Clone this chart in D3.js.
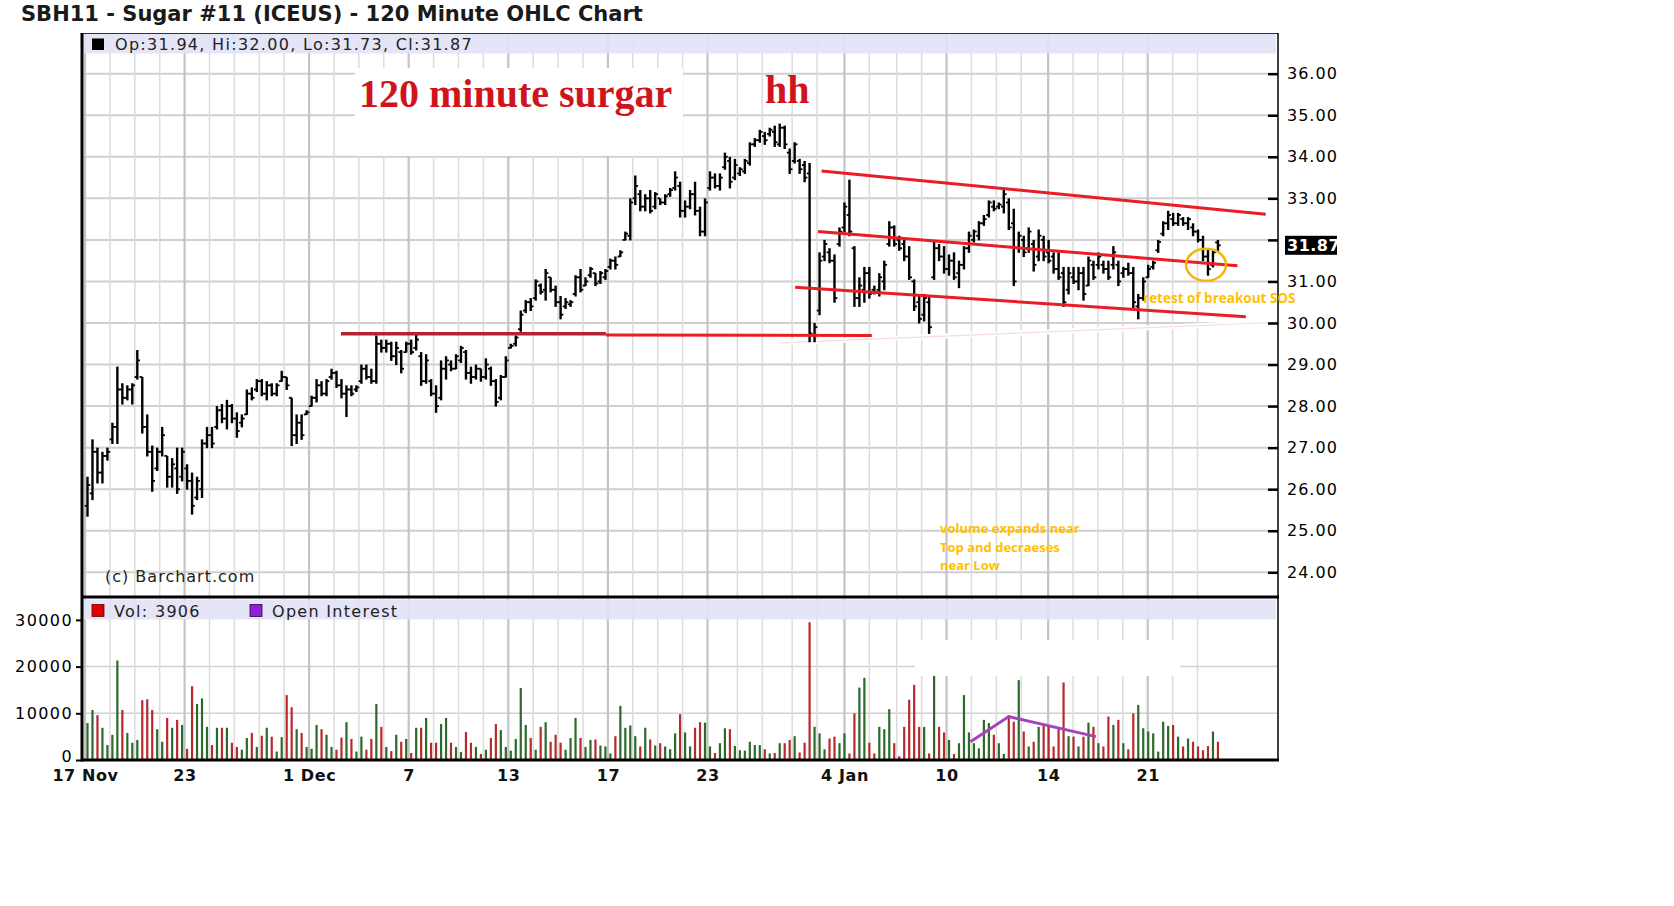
<!DOCTYPE html>
<html>
<head>
<meta charset="utf-8">
<script src="https://cdn.jsdelivr.net/npm/d3@7"></script>
<style>
  body { margin: 0; background: #fff; }
  svg { display: block; }
</style>
</head>
<body>
<svg id="chart" width="1674" height="906"></svg>
<script>
// 120 minute OHLC bars, SBH11 sugar, 17 Nov - 25 Jan
const opens = [
  25.6,25.9,26.9,26.4,26.8,27.2,27.5,28.4,28.2,28.4,
  28.7,28.7,27.5,26.9,26.5,26.9,26.8,26.3,26.5,26.3,
  26.5,26.2,25.8,26.0,27.1,27.3,27.5,27.9,27.7,28.0,
  27.7,27.6,27.8,28.3,28.4,28.6,28.3,28.5,28.3,28.6,
  28.7,28.2,27.3,27.6,27.8,28.0,28.2,28.5,28.3,28.7,
  28.8,28.5,28.3,28.4,28.4,28.6,28.9,28.7,28.6,29.5,
  29.4,29.5,29.2,29.3,29.3,29.5,29.4,29.2,28.6,28.6,
  28.3,28.2,28.9,29.0,28.9,29.1,29.3,28.8,28.7,28.9,
  28.7,28.9,28.6,28.2,28.7,29.4,29.5,29.85,30.3,30.5,
  30.6,30.9,30.8,31.1,30.8,30.5,30.4,30.45,30.7,31.1,
  30.9,31.15,31.2,31.0,31.1,31.35,31.5,31.6,32.0,32.1,
  33.0,33.1,32.8,33.0,32.8,33.0,32.9,33.1,33.25,33.3,
  32.7,32.8,33.1,32.7,32.2,33.25,33.5,33.3,33.75,33.9,
  33.5,33.6,33.65,33.85,34.3,34.4,34.5,34.55,34.6,34.3,
  34.7,34.1,33.9,33.9,33.8,33.6,29.7,30.3,31.6,31.7,
  31.5,31.9,32.3,32.6,31.8,30.6,30.8,31.2,30.8,30.8,
  31.0,31.9,32.3,32.0,31.9,31.6,31.0,30.5,30.2,30.5,
  31.1,31.8,31.6,31.3,31.5,31.2,31.4,31.8,32.0,32.1,
  32.4,32.6,32.8,32.8,32.8,32.9,32.4,31.8,32.0,31.8,
  31.9,31.6,32.0,31.7,31.6,31.3,31.2,30.8,31.1,31.0,
  31.2,30.9,31.4,31.4,31.4,31.3,31.4,31.4,31.2,31.3,
  31.2,30.4,30.6,31.1,31.35,31.75,32.15,32.4,32.5,32.4,
  32.5,32.4,32.3,32.2,32.0,31.6,31.4,31.94
];
const highs = [
  26.3,27.2,27.0,26.9,27.0,27.6,28.95,28.55,28.5,28.55,
  29.35,28.7,27.8,27.05,27.0,27.5,26.8,26.75,27.0,27.0,
  26.6,26.4,26.3,27.2,27.5,27.5,28.0,28.05,28.15,28.05,
  27.85,27.8,28.4,28.45,28.65,28.65,28.6,28.55,28.55,28.85,
  28.7,28.2,27.8,27.8,27.9,28.25,28.65,28.6,28.65,28.9,
  28.85,28.65,28.5,28.5,28.5,29.0,29.0,28.9,29.7,29.6,
  29.6,29.55,29.55,29.35,29.55,29.6,29.75,29.3,29.25,28.65,
  28.5,29.1,29.2,29.1,29.25,29.45,29.35,28.95,29.0,28.9,
  29.15,28.95,28.65,28.75,29.2,29.5,29.7,30.3,30.55,30.6,
  31.05,30.95,31.3,31.1,30.9,30.65,30.6,30.55,31.15,31.3,
  31.1,31.35,31.2,31.25,31.3,31.55,31.6,31.75,32.2,33.0,
  33.55,33.2,33.1,33.2,33.15,33.0,33.1,33.25,33.65,33.4,
  32.95,33.2,33.4,32.8,33.0,33.65,33.6,33.6,34.1,34.0,
  33.95,33.75,33.95,34.35,34.45,34.65,34.6,34.7,34.75,34.8,
  34.75,34.2,34.35,33.95,33.9,33.85,30.0,31.7,32.0,31.8,
  31.65,32.3,32.9,33.45,31.85,31.1,31.35,31.35,30.9,31.2,
  31.5,32.45,32.35,32.1,32.0,31.85,31.05,30.65,30.7,30.65,
  32.0,31.9,31.85,31.65,31.7,31.5,31.85,32.2,32.25,32.45,
  32.6,32.95,32.95,32.9,33.2,33.0,32.75,32.2,32.1,32.3,
  32.0,32.25,32.1,32.0,31.7,31.7,31.35,31.35,31.35,31.35,
  31.35,31.6,31.5,31.7,31.5,31.5,31.85,31.5,31.35,31.45,
  31.35,30.7,31.1,31.4,31.5,32.0,32.45,32.7,32.65,32.65,
  32.55,32.55,32.4,32.25,32.1,31.8,31.75,32.0
];
const lows = [
  25.35,25.75,26.15,26.15,26.7,27.1,27.1,28.05,28.15,28.05,
  28.65,27.35,26.8,25.95,26.45,26.8,26.05,26.05,25.9,26.2,
  26.0,25.4,25.75,25.8,27.0,27.0,27.45,27.6,27.45,27.6,
  27.25,27.5,27.8,28.15,28.35,28.25,28.15,28.25,28.25,28.6,
  28.4,27.05,27.1,27.2,27.8,28.0,28.1,28.25,28.25,28.65,
  28.45,28.2,27.75,28.25,28.35,28.55,28.65,28.55,28.55,29.3,
  29.3,29.1,29.0,28.8,29.3,29.25,29.35,28.5,28.55,28.25,
  27.85,28.15,28.65,28.85,28.9,29.05,28.65,28.55,28.65,28.6,
  28.65,28.5,28.0,28.15,28.7,29.4,29.45,29.8,30.25,30.3,
  30.55,30.7,30.55,30.75,30.4,30.1,30.35,30.4,30.65,30.75,
  30.9,31.1,30.9,30.95,31.05,31.3,31.3,31.6,32.0,32.0,
  32.85,32.7,32.7,32.65,32.75,32.85,32.85,33.05,33.2,32.55,
  32.55,32.75,32.6,32.1,32.1,33.2,33.25,33.2,33.7,33.25,
  33.45,33.55,33.6,33.8,34.25,34.35,34.3,34.5,34.25,34.25,
  34.2,33.6,33.85,33.6,33.4,29.55,29.55,30.2,31.5,31.45,
  30.5,31.85,32.2,32.1,30.4,30.4,30.5,30.6,30.7,30.65,
  30.8,31.85,31.85,31.75,31.5,31.05,30.3,30.0,30.05,29.75,
  31.05,31.5,31.2,31.15,31.05,30.85,31.3,31.7,31.95,32.0,
  32.35,32.55,32.7,32.75,32.65,32.25,30.9,31.7,31.6,31.7,
  31.25,31.5,31.5,31.45,31.2,31.05,30.4,30.7,30.95,30.8,
  30.55,30.9,31.05,31.3,31.2,31.05,31.3,30.9,31.1,31.15,
  30.35,30.1,30.55,31.1,31.3,31.7,32.1,32.25,32.35,32.35,
  32.35,32.25,32.1,31.95,31.5,31.15,31.35,31.73
];
const closes = [
  26.1,26.9,26.4,26.8,26.9,27.5,28.4,28.2,28.4,28.5,
  29.1,27.5,26.9,26.2,26.9,27.3,26.3,26.6,26.0,26.9,
  26.2,25.6,26.2,27.1,27.3,27.1,27.9,27.7,28.0,27.7,
  27.4,27.7,28.3,28.2,28.6,28.3,28.5,28.3,28.5,28.7,
  28.5,27.3,27.6,27.3,27.85,28.2,28.5,28.3,28.6,28.8,
  28.5,28.3,28.4,28.3,28.45,28.9,28.7,28.6,29.5,29.4,
  29.5,29.2,29.4,28.9,29.5,29.3,29.6,28.6,29.1,28.3,
  28.0,28.9,29.1,28.9,29.2,29.4,28.8,28.7,28.9,28.7,
  29.0,28.6,28.1,28.7,29.1,29.45,29.65,30.2,30.5,30.4,
  31.0,30.75,31.2,30.8,30.5,30.2,30.5,30.5,31.1,30.8,
  31.0,31.3,30.95,31.2,31.25,31.5,31.4,31.7,32.15,32.9,
  33.3,32.8,33.0,32.7,33.1,32.9,33.05,33.2,33.5,32.7,
  32.8,33.1,32.7,32.2,32.9,33.5,33.3,33.5,34.0,33.4,
  33.8,33.7,33.9,34.3,34.4,34.6,34.4,34.65,34.35,34.7,
  34.3,33.7,34.3,33.7,33.5,29.75,29.9,31.5,31.9,31.5,
  30.6,32.2,32.8,32.2,30.6,30.9,31.2,30.7,30.75,31.1,
  31.4,32.3,31.9,31.8,31.6,31.1,30.4,30.1,30.6,29.9,
  31.8,31.6,31.3,31.5,31.1,31.4,31.8,32.1,32.2,32.4,
  32.5,32.9,32.75,32.85,33.1,32.3,31.0,32.1,31.7,32.2,
  31.4,32.1,31.6,31.5,31.3,31.1,30.5,31.2,31.0,31.2,
  30.7,31.5,31.1,31.6,31.3,31.1,31.7,31.0,31.3,31.2,
  30.5,30.6,31.0,31.3,31.45,31.95,32.4,32.6,32.4,32.6,
  32.4,32.5,32.2,32.0,31.6,31.3,31.7,31.87
];
const volumes = [
  7900,10700,9600,6900,3200,5400,21300,10700,5800,3700,
  4300,12800,13000,10700,6600,3900,9000,6900,8600,7500,
  2400,15800,12000,13200,7100,3200,6900,6900,6900,3700,
  2800,2200,4700,5800,2800,5200,6900,5000,1800,4900,
  13900,11300,6600,5800,2800,2400,7500,6600,5400,2800,
  2200,4800,8100,4500,1800,5000,2200,4500,12000,7100,
  2800,1900,5400,3900,4500,1500,6900,6900,9000,3700,
  3700,7700,9000,3700,2800,1700,6000,3700,2800,1300,
  2200,4700,7700,6400,2800,2000,4500,15400,7500,4700,
  2200,7100,8100,3900,5400,3700,2200,4700,9000,4700,
  2800,4300,4400,3100,2900,1400,5100,11600,6900,7400,
  5100,2900,6900,4400,3100,3600,2900,2300,5700,9800,
  5900,2900,6900,8100,8000,2900,1500,3600,6800,6600,
  3000,2100,2000,3900,3200,3200,2300,1400,1500,3600,
  3600,4300,5100,1600,3700,29500,7100,5700,2300,4600,
  5000,3600,5700,1400,10000,15500,17600,3700,1400,7100,
  6600,10900,3600,800,7100,12900,16100,7100,7100,1400,
  18000,7100,5900,4300,1300,3600,13900,5900,3600,2500,
  8600,7900,5400,3600,1300,9600,8200,17100,6100,2900,
  3900,7100,7500,7100,2900,6800,16600,5100,5000,2900,
  5000,8000,7100,3600,2900,9300,7500,8600,3600,2300,
  10000,11800,6800,6100,5700,1800,8200,7300,7500,5000,
  2900,4600,3900,2900,2100,3000,6100,3906
];

// bar index where each session starts (vertical grid)
const dayStarts = [0,5,10,15,20,25,30,35,40,45,50,55,60,65,70,75,80,85,90,95,
  100,105,110,115,120,125,131,136,142,147,152.5,157.5,163,168,173,178,183,188,
  193.4,198.4,203.4,208.4,213.4,218.4,223.4];
const tickIdx = [0,20,45,65,85,105,125,152.5,173,193.4,213.4];
const tickText = ["17 Nov","23","1 Dec","7","13","17","23","4 Jan","10","14","21"];
const priceTicks = [24,25,26,27,28,29,30,31,32,33,34,35,36];
const volTicks = [0,10000,20000,30000];

// hand drawn lines, in [bar index, value]
const supportDark = [[51.4,29.74],[104.6,29.74]];
const supportRed = [[104.6,29.71],[158,29.70]];
const channelTop = [[147.9,33.66],[237.1,32.62]];
const channelMid = [[147.2,32.20],[231.4,31.38]];
const channelLow = [[142.6,30.86],[233.1,30.15]];
const fadedLine = [[139.5,29.52],[240,30.02]];
const volWedge = [[177.8,3900],[185.5,9300],[203,5000]];
const retestSpot = [225.1,31.40];

const svg = d3.select("#chart");
const N = closes.length;
const left = 82, right = 1278, midLine = 597, volBase = 760;
const font = "'DejaVu Sans', sans-serif";

const x = d3.scaleLinear().domain([0, N]).range([85, 85 + 4.98 * N]);
const y = d3.scaleLinear().domain([24, 36]).range([572.3, 73.7]);
const yv = d3.scaleLinear().domain([0, 30000]).range([volBase, 619.9]);

svg.append("rect").attr("width", 1674).attr("height", 906).attr("fill", "#fff");

// grid
const grid = svg.append("g");
grid.selectAll(".hp").data(priceTicks).enter().append("line")
  .attr("x1", left).attr("x2", right).attr("y1", d => y(d)).attr("y2", d => y(d))
  .attr("stroke", "#cfcfcf").attr("stroke-width", 2);
grid.selectAll(".hv").data(volTicks.slice(1, 3)).enter().append("line")
  .attr("x1", left).attr("x2", right).attr("y1", d => yv(d)).attr("y2", d => yv(d))
  .attr("stroke", "#d2d2d2").attr("stroke-width", 1.5);
[[34, midLine], [599, volBase]].forEach(([a, b]) => {
  grid.selectAll(null).data(dayStarts).enter().append("line")
    .attr("x1", d => x(d)).attr("x2", d => x(d)).attr("y1", a).attr("y2", b)
    .attr("stroke", d => tickIdx.includes(d) ? "#c4c4c4" : "#dcdcdc")
    .attr("stroke-width", d => tickIdx.includes(d) ? 2.2 : 1.5);
});

// lavender header bands
svg.append("rect").attr("x", left + 1).attr("y", 34).attr("width", right - left - 3).attr("height", 19.5)
  .attr("fill", "#e2e2f7").attr("fill-opacity", 0.9);
svg.append("rect").attr("x", left + 1).attr("y", 599.5).attr("width", right - left - 3).attr("height", 20)
  .attr("fill", "#e2e2f7").attr("fill-opacity", 0.9);

// erased patches
svg.append("rect").attr("x", 355).attr("y", 68).attr("width", 328).attr("height", 88).attr("fill", "#fff");
svg.append("rect").attr("x", 915).attr("y", 640).attr("width", 265).attr("height", 36).attr("fill", "#fff");

const line = d3.line().x(d => x(d[0])).y(d => y(d[1]));
svg.append("path").attr("d", line(fadedLine)).attr("fill", "none")
  .attr("stroke", "#fff").attr("stroke-width", 5);
svg.append("path").attr("d", line(fadedLine)).attr("fill", "none")
  .attr("stroke", "#f0c4c8").attr("stroke-width", 1.2).attr("stroke-opacity", 0.6);

// volume bars
svg.append("g").selectAll("rect").data(volumes).enter().append("rect")
  .attr("x", (d, i) => x(i + 0.5) - 1.1).attr("width", 2.2)
  .attr("y", d => yv(d)).attr("height", d => volBase - yv(d))
  .attr("fill", (d, i) => closes[i] >= opens[i] ? "#2b6a2b" : "#b8292c");

// OHLC bars
const bars = svg.append("g").attr("stroke", "#000");
const idx = d3.range(N);
bars.selectAll(".hl").data(idx).enter().append("line")
  .attr("x1", i => x(i + 0.5)).attr("x2", i => x(i + 0.5))
  .attr("y1", i => y(highs[i])).attr("y2", i => y(lows[i]) + 0.5).attr("stroke-width", 2.4);
bars.selectAll(".op").data(idx).enter().append("line")
  .attr("x1", i => x(i + 0.5) - 2.8).attr("x2", i => x(i + 0.5))
  .attr("y1", i => y(opens[i])).attr("y2", i => y(opens[i])).attr("stroke-width", 1.8);
bars.selectAll(".cl").data(idx).enter().append("line")
  .attr("x1", i => x(i + 0.5)).attr("x2", i => x(i + 0.5) + 2.8)
  .attr("y1", i => y(closes[i])).attr("y2", i => y(closes[i])).attr("stroke-width", 1.8);

// red trend lines
svg.append("path").attr("d", line(supportDark)).attr("stroke", "#b42430").attr("stroke-width", 3.5).attr("fill", "none");
[supportRed, channelTop, channelMid, channelLow].forEach(l => {
  svg.append("path").attr("d", line(l)).attr("stroke", "#ea1c26").attr("stroke-width", 3).attr("fill", "none");
});
svg.append("path")
  .attr("d", d3.line().x(d => x(d[0])).y(d => yv(d[1]))(volWedge))
  .attr("stroke", "#a444b8").attr("stroke-width", 3).attr("fill", "none");
svg.append("ellipse").attr("cx", x(retestSpot[0])).attr("cy", y(retestSpot[1]))
  .attr("rx", 20).attr("ry", 16).attr("fill", "none").attr("stroke", "#f4b400").attr("stroke-width", 2.5);

// frame
const frame = svg.append("g").attr("stroke", "#000");
frame.append("line").attr("x1", left).attr("x2", right).attr("y1", 33.5).attr("y2", 33.5).attr("stroke", "#333").attr("stroke-width", 1);
frame.append("line").attr("x1", left).attr("x2", left).attr("y1", 33).attr("y2", volBase + 1.5).attr("stroke-width", 3);
frame.append("line").attr("x1", right).attr("x2", right).attr("y1", 33).attr("y2", volBase).attr("stroke-width", 1.5);
frame.append("line").attr("x1", left).attr("x2", right + 1).attr("y1", midLine).attr("y2", midLine).attr("stroke-width", 3);
frame.append("line").attr("x1", left).attr("x2", right + 1).attr("y1", volBase).attr("y2", volBase).attr("stroke-width", 3);

// price axis (right); the label under the last-price box is left out
const last = closes[N - 1];
const gy = svg.append("g").attr("transform", `translate(${right},0)`)
  .call(d3.axisRight(y).tickValues(priceTicks).tickSize(0).tickPadding(9)
    .tickFormat(d => Math.abs(y(d) - y(last)) < 16 ? "" : d3.format(".2f")(d)));
gy.attr("font-size", 16).attr("font-family", font);
gy.select(".domain").remove();
gy.selectAll(".tick text").attr("letter-spacing", 1).attr("fill", "#000");
gy.selectAll(".tick").append("line").attr("x1", -10).attr("x2", 0).attr("stroke", "#000").attr("stroke-width", 2.5);

// last price box
svg.append("rect").attr("x", right + 7).attr("y", y(last) - 9.5).attr("width", 52).attr("height", 19).attr("fill", "#000");
svg.append("text").attr("x", right + 9).attr("y", y(last)).attr("dy", "0.36em")
  .attr("font-family", font).attr("font-size", 16).attr("font-weight", "bold").attr("letter-spacing", 0.5)
  .attr("fill", "#fff").text(last.toFixed(2));

// volume axis (left)
const gv = svg.append("g").attr("transform", `translate(${left},0)`)
  .call(d3.axisLeft(yv).tickValues(volTicks).tickSize(6).tickPadding(3).tickFormat(d3.format("d")));
gv.attr("font-size", 16).attr("font-family", font);
gv.select(".domain").remove();
gv.selectAll(".tick line").attr("stroke-width", 2);
gv.selectAll(".tick text").attr("letter-spacing", 1.4).attr("fill", "#000");
gv.selectAll(".tick text").filter(d => d === 0).attr("dy", "0.1em");

// date axis
const gx = svg.append("g").attr("transform", `translate(0,${volBase})`)
  .call(d3.axisBottom(x).tickValues(tickIdx).tickFormat((d, i) => tickText[i]).tickSize(0).tickPadding(10));
gx.attr("font-size", 16).attr("font-family", font).attr("font-weight", "bold");
gx.select(".domain").remove();
gx.selectAll(".tick text").attr("letter-spacing", 0.6).attr("fill", "#111");

// texts
svg.append("text").attr("x", 21).attr("y", 20.5).attr("font-family", font).attr("font-size", 21)
  .attr("font-weight", "bold").attr("fill", "#1a1a1a")
  .text("SBH11 - Sugar #11 (ICEUS) - 120 Minute OHLC Chart");

svg.append("rect").attr("x", 92).attr("y", 38.5).attr("width", 12).attr("height", 11.5).attr("fill", "#000");
svg.append("text").attr("x", 115).attr("y", 50).attr("font-family", font).attr("font-size", 16)
  .attr("letter-spacing", 1.3).attr("fill", "#222")
  .text(`Op:${opens[N - 1].toFixed(2)}, Hi:${highs[N - 1].toFixed(2)}, Lo:${lows[N - 1].toFixed(2)}, Cl:${closes[N - 1].toFixed(2)}`);

svg.append("rect").attr("x", 92).attr("y", 604.5).attr("width", 12).attr("height", 12).attr("fill", "#e00000").attr("stroke", "#600").attr("stroke-width", 0.8);
svg.append("text").attr("x", 114).attr("y", 617).attr("font-family", font).attr("font-size", 16)
  .attr("letter-spacing", 1.3).attr("fill", "#222").text(`Vol: ${volumes[N - 1]}`);
svg.append("rect").attr("x", 250).attr("y", 604.5).attr("width", 12).attr("height", 12).attr("fill", "#8f1fe0").attr("stroke", "#303").attr("stroke-width", 0.8);
svg.append("text").attr("x", 272).attr("y", 617).attr("font-family", font).attr("font-size", 16)
  .attr("letter-spacing", 1.3).attr("fill", "#222").text("Open Interest");

svg.append("text").attr("x", 105).attr("y", 582).attr("font-family", font).attr("font-size", 16)
  .attr("letter-spacing", 1).attr("fill", "#222").text("(c) Barchart.com");

const serif = "'Liberation Serif', 'DejaVu Serif', serif";
svg.append("text").attr("x", 359).attr("y", 107).attr("font-family", serif).attr("font-size", 40)
  .attr("font-weight", "bold").attr("fill", "#d0141c").text("120 minute surgar");
svg.append("text").attr("x", 765).attr("y", 103).attr("font-family", serif).attr("font-size", 40)
  .attr("font-weight", "bold").attr("fill", "#d0141c").text("hh");

const note = "'Open Sans', 'DejaVu Sans', sans-serif";
svg.append("text").attr("x", 1143).attr("y", 303).attr("font-family", note).attr("font-size", 13.5)
  .attr("font-weight", "bold").attr("fill", "#ffc000").text("retest of breakout SOS");
["volume expands near", "Top and decraeses", "near Low"].forEach((t, i) => {
  svg.append("text").attr("x", 940).attr("y", 533 + i * 18.5).attr("font-family", note).attr("font-size", 13)
    .attr("font-weight", "bold").attr("fill", "#ffc000").text(t);
});
</script>
</body>
</html>
